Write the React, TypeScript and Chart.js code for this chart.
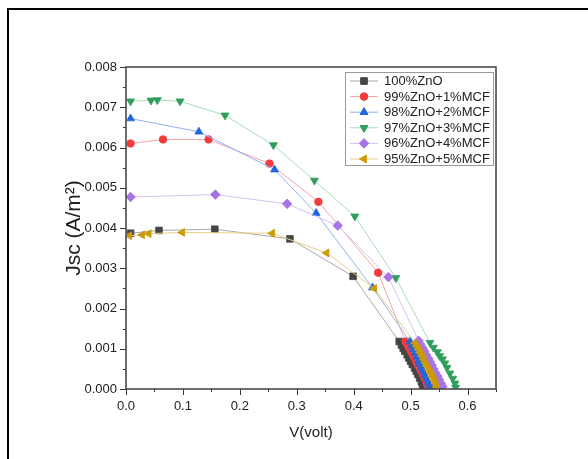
import React, { useEffect, useRef } from 'react';
import { Chart, registerables } from 'chart.js';
import { drawPoint } from 'chart.js/helpers';

Chart.register(...registerables);

// ---------- data ----------
const seriesLabels = ['100%ZnO', '99%ZnO+1%MCF', '98%ZnO+2%MCF', '97%ZnO+3%MCF', '96%ZnO+4%MCF', '95%ZnO+5%MCF'];

const v100 = [0.008, 0.058, 0.156, 0.288, 0.399, 0.480, 0.484, 0.487, 0.490, 0.494, 0.497, 0.500, 0.503, 0.507, 0.510, 0.513, 0.516, 0.519, 0.521, 0.523];
const j100 = [0.00387, 0.00394, 0.00397, 0.00373, 0.00280, 0.00118, 0.00109, 0.00101, 0.00094, 0.00085, 0.00077, 0.00069, 0.00061, 0.00052, 0.00044, 0.00036, 0.00027, 0.00018, 0.00010, 0.00003];

const v99 = [0.008, 0.065, 0.145, 0.252, 0.338, 0.443, 0.491, 0.495, 0.498, 0.501, 0.504, 0.507, 0.510, 0.513, 0.516, 0.519, 0.522, 0.525, 0.528, 0.530, 0.532];
const j99 = [0.00610, 0.00620, 0.00620, 0.00560, 0.00465, 0.00289, 0.00118, 0.00109, 0.00101, 0.00093, 0.00085, 0.00077, 0.00068, 0.00060, 0.00052, 0.00043, 0.00035, 0.00026, 0.00017, 0.00009, 0.00003];

const v98 = [0.008, 0.128, 0.261, 0.334, 0.433, 0.499, 0.502, 0.505, 0.508, 0.511, 0.514, 0.516, 0.519, 0.522, 0.525, 0.528, 0.531, 0.534, 0.536];
const j98 = [0.00672, 0.00639, 0.00545, 0.00437, 0.00252, 0.00118, 0.00108, 0.00099, 0.00090, 0.00080, 0.00070, 0.00062, 0.00053, 0.00043, 0.00034, 0.00025, 0.00016, 0.00008, 0.00002];

const v97 = [0.008, 0.044, 0.055, 0.095, 0.174, 0.259, 0.331, 0.402, 0.474, 0.534, 0.540, 0.547, 0.551, 0.556, 0.560, 0.564, 0.569, 0.574, 0.578, 0.579];
const j97 = [0.00715, 0.00717, 0.00718, 0.00715, 0.00680, 0.00606, 0.00518, 0.00429, 0.00276, 0.00115, 0.00103, 0.00092, 0.00082, 0.00074, 0.00064, 0.00053, 0.00039, 0.00026, 0.00014, 0.00004];

const v96 = [0.008, 0.157, 0.283, 0.372, 0.461, 0.514, 0.517, 0.521, 0.524, 0.527, 0.531, 0.534, 0.537, 0.540, 0.543, 0.547, 0.550, 0.553, 0.556];
const j96 = [0.00477, 0.00483, 0.00460, 0.00406, 0.00278, 0.00120, 0.00111, 0.00102, 0.00094, 0.00085, 0.00076, 0.00067, 0.00059, 0.00050, 0.00041, 0.00032, 0.00023, 0.00014, 0.00006];

const v95 = [0.006, 0.0285, 0.040, 0.099, 0.257, 0.3525, 0.436, 0.508, 0.511, 0.514, 0.517, 0.520, 0.523, 0.526, 0.529, 0.532, 0.535, 0.538, 0.541, 0.544, 0.546];
const j95 = [0.00381, 0.00383, 0.00386, 0.00389, 0.00387, 0.00338, 0.00250, 0.00114, 0.00106, 0.00098, 0.00090, 0.00082, 0.00073, 0.00065, 0.00057, 0.00048, 0.00040, 0.00031, 0.00022, 0.00013, 0.00005];

const xMajorTicks = [0.0, 0.1, 0.2, 0.3, 0.4, 0.5, 0.6];
const yMajorTicks = [0.0, 0.001, 0.002, 0.003, 0.004, 0.005, 0.006, 0.007, 0.008];

const seriesV = [v100, v99, v98, v97, v96, v95];
const seriesJ = [j100, j99, j98, j97, j96, j95];

// ---------- styles ----------
const markerColors = ['#454545', '#f23b3b', '#1f66e0', '#2f9e5c', '#a774e6', '#cc9a06'];
const lineColors = ['#a8a8a8', '#f5a3a3', '#8fb3ee', '#a6dcbb', '#d6bff4', '#e9cf84'];
const pointStyles = ['rect', 'circle', 'triangle', 'triangle', 'rectRot', 'triangle'];
const pointRotations = [0, 0, 0, 180, 0, 270];
const pointRadii = [4.7, 3.8, 4.6, 4.6, 4.8, 4.6];

const FONT = "'Liberation Sans', Arial, Helvetica, sans-serif";

const isMajor = (v: number, list: number[]) => list.some((m) => Math.abs(m - v) < 1e-9);

const framePlugin = {
  id: 'frameTicks',
  afterDraw(chart: any) {
    const { ctx, chartArea } = chart;
    const xs = chart.scales.x;
    const ys = chart.scales.y;
    ctx.save();
    ctx.strokeStyle = '#333';
    ctx.lineWidth = 1;
    xs.ticks.forEach((t: any) => {
      const px = Math.round(xs.getPixelForValue(t.value)) + 0.5;
      const len = isMajor(t.value, xMajorTicks) ? 6 : 3;
      ctx.beginPath();
      ctx.moveTo(px, chartArea.bottom);
      ctx.lineTo(px, chartArea.bottom + len);
      ctx.stroke();
    });
    ys.ticks.forEach((t: any) => {
      const py = Math.round(ys.getPixelForValue(t.value)) + 0.5;
      const len = isMajor(t.value, yMajorTicks) ? 6 : 3;
      ctx.beginPath();
      ctx.moveTo(chartArea.left, py);
      ctx.lineTo(chartArea.left - len, py);
      ctx.stroke();
    });
    ctx.strokeStyle = '#4a4a4a';
    ctx.lineWidth = 1.6;
    ctx.strokeRect(chartArea.left, chartArea.top, chartArea.right - chartArea.left, chartArea.bottom - chartArea.top);

    // legend
    const bx = 345.5, by = 72.5, bw = 148, bh = 93;
    ctx.fillStyle = '#fff';
    ctx.fillRect(bx, by, bw, bh);
    ctx.strokeStyle = '#9a9a9a';
    ctx.lineWidth = 1;
    ctx.strokeRect(bx, by, bw, bh);
    ctx.font = `13px ${FONT}`;
    ctx.textBaseline = 'middle';
    ctx.textAlign = 'left';
    chart.data.datasets.forEach((ds: any, i: number) => {
      const y = 81 + i * 15.6;
      ctx.strokeStyle = ds.borderColor;
      ctx.lineWidth = 1;
      ctx.beginPath();
      ctx.moveTo(350, y);
      ctx.lineTo(378, y);
      ctx.stroke();
      ctx.fillStyle = ds.pointBackgroundColor;
      ctx.strokeStyle = ds.pointBorderColor;
      ctx.lineWidth = 1;
      drawPoint(ctx, { pointStyle: ds.pointStyle, radius: ds.pointRadius, rotation: ds.pointRotation, borderWidth: 1 }, 364, y);
      ctx.fillStyle = '#222';
      ctx.fillText(ds.label, 384, y + 0.5);
    });
    ctx.restore();
  },
};

export default function App() {
  const ref = useRef<HTMLCanvasElement | null>(null);

  useEffect(() => {
    if (!ref.current) return;
    const datasets = seriesLabels.map((label, i) => ({
      label,
      data: seriesV[i].map((v, k) => ({ x: v, y: seriesJ[i][k] })),
      showLine: true,
      borderColor: lineColors[i],
      borderWidth: 1,
      backgroundColor: markerColors[i],
      pointBackgroundColor: markerColors[i],
      pointBorderColor: markerColors[i],
      pointBorderWidth: 0.8,
      pointStyle: pointStyles[i],
      pointRotation: pointRotations[i],
      pointRadius: pointRadii[i],
      tension: 0,
      order: seriesLabels.length - i,
    }));
    const chart = new Chart(ref.current, {
      type: 'scatter',
      data: { datasets },
      plugins: [framePlugin],
      options: {
        animation: false,
        responsive: false,
        maintainAspectRatio: false,
        layout: { padding: { left: 0, top: 67, right: 92, bottom: 0 } },
        plugins: { legend: { display: false }, tooltip: { enabled: false } },
        scales: {
          x: {
            type: 'linear',
            min: 0,
            max: 0.65,
            grid: { display: false, drawTicks: false, tickLength: 0 },
            border: { display: false },
            afterFit: (s: any) => { s.height = 70; },
            ticks: {
              stepSize: 0.05,
              autoSkip: false,
              maxRotation: 0,
              padding: 10,
              color: '#222',
              font: { family: FONT, size: 13 },
              callback: (v: any) => (isMajor(Number(v), xMajorTicks) ? Number(v).toFixed(1) : ''),
            },
            title: {
              display: true,
              text: 'V(volt)',
              color: '#222',
              font: { family: FONT, size: 15 },
              padding: { top: 0, bottom: 17 },
            },
          },
          y: {
            type: 'linear',
            min: 0,
            max: 0.008,
            grid: { display: false, drawTicks: false, tickLength: 0 },
            border: { display: false },
            afterFit: (s: any) => { s.width = 126; },
            ticks: {
              stepSize: 0.0005,
              autoSkip: false,
              padding: 9,
              color: '#222',
              font: { family: FONT, size: 13 },
              callback: (v: any) => (isMajor(Number(v), yMajorTicks) ? Number(v).toFixed(3) : ''),
            },
            title: {
              display: true,
              text: 'Jsc (A/m²)',
              color: '#222',
              font: { family: FONT, size: 21 },
              padding: { top: 62, bottom: 0 },
            },
          },
        },
      } as any,
    });
    return () => chart.destroy();
  }, []);

  return (
    <div style={{ position: 'fixed', left: 0, top: 0, width: 588, height: 459, overflow: 'hidden', background: '#fff' }}>
      <div style={{ position: 'absolute', left: 7, top: 8, width: 700, height: 600, borderLeft: '2px solid #000', borderTop: '2px solid #000' }} />
      <canvas ref={ref} width={588} height={459} style={{ position: 'absolute', left: 0, top: 0, display: 'block' }} />
    </div>
  );
}
